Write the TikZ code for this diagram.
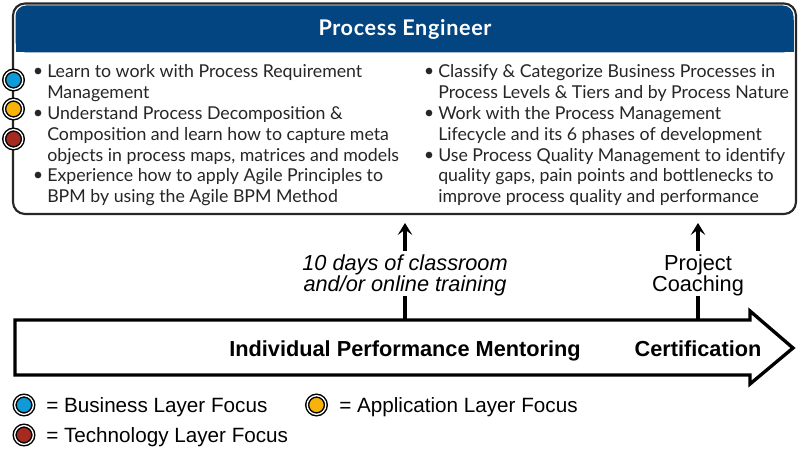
\documentclass[tikz,border=0pt]{standalone}
\usepackage{fontspec}
\setmainfont{Liberation Sans}
\newfontfamily\boxfont{Lato}
\newfontfamily\headfont[LetterSpace=3]{Lato}
\definecolor{headblue}{HTML}{024581}
\definecolor{bizblue}{HTML}{0F9BD7}
\definecolor{appyellow}{HTML}{F8B30B}
\definecolor{techred}{HTML}{A52A1F}
\definecolor{edgegray}{HTML}{262626}
\usetikzlibrary{arrows.meta}
\tikzset{
  bulletitem/.style = {anchor=north west, inner sep=0pt, align=left, font=\boxfont\fontsize{13.3}{15.6}\selectfont, text=edgegray},
  bulletdot/.style = {circle, fill=edgegray, inner sep=0pt, minimum size=5pt},
  layerdot/.style = {circle, draw=black, double=white, line width=1.1pt, double distance=1pt, minimum size=14pt, inner sep=0pt},
  legendtext/.style = {anchor=west, inner sep=0pt, font=\fontsize{15.5}{15.5}\selectfont},
  steptext/.style = {inner sep=0pt, align=center, font=\fontsize{16.3}{15.75}\selectfont},
  trackline/.style = {line width=2.5pt},
  uparrow/.style = {line width=2.5pt, -{Stealth[length=9pt,width=11pt,inset=4pt]}}
}
\begin{document}
\begin{tikzpicture}[x=0.75pt, y=-0.75pt]
    \useasboundingbox (0,0) rectangle (800,449);
    % main box
    \draw[edgegray, line width=1.6pt, rounded corners=9pt, fill=white] (13,3.5) rectangle (796,214);
    \fill[headblue, rounded corners=8pt] (15.5,5.5) -- (793.5,5.5) -- (793.5,52.5) -- (15.5,52.5) -- cycle;
    \fill[headblue] (15.5,20) rectangle (793.5,52.5);
    \node[inner sep=0pt, text=white, font=\headfont\bfseries\fontsize{16.2}{16}\selectfont] (title) at (405,29) {Process Engineer};
    % left column
    \node[bulletitem] (l1) at (47,64.5) {Learn to work with Process Requirement\\Management};
    \node[bulletitem] (l2) at (47,106.2) {Understand Process Decomposition \&\\Composition and learn how to capture meta\\objects in process maps, matrices and models};
    \node[bulletitem] (l3) at (47,168.5) {Experience how to apply Agile Principles to\\BPM by using the Agile BPM Method};
    \node[bulletdot] (dl1) at (38,71) {};
    \node[bulletdot] (dl2) at (38,113) {};
    \node[bulletdot] (dl3) at (38,175) {};
    % right column
    \node[bulletitem] (r1) at (438,64.5) {Classify \& Categorize Business Processes in\\Process Levels \& Tiers and by Process Nature};
    \node[bulletitem] (r2) at (438,106.2) {Work with the Process Management\\Lifecycle and its 6 phases of development};
    \node[bulletitem] (r3) at (438,147.8) {Use Process Quality Management to identify\\quality gaps, pain points and bottlenecks to\\improve process quality and performance};
    \node[bulletdot] (dr1) at (429,71) {};
    \node[bulletdot] (dr2) at (429,113) {};
    \node[bulletdot] (dr3) at (429,155) {};
    % layer dots on the box edge
    \node[layerdot, fill=bizblue] (biz) at (13.5,80) {};
    \node[layerdot, fill=appyellow] (app) at (13.5,109) {};
    \node[layerdot, fill=techred] (tech) at (13.5,139) {};
    % big arrow
    \draw[trackline, fill=white, miter limit=10] (15,320) -- (750,320) -- (750,311) -- (793,348) -- (750,384) -- (750,375) -- (15,375) -- cycle;
    \node[inner sep=0pt, font=\bfseries\fontsize{16.3}{16}\selectfont] (mentor) at (405,351) {Individual Performance Mentoring};
    \node[inner sep=0pt, font=\bfseries\fontsize{16.3}{16}\selectfont] (cert) at (698,349) {Certification};
    % steps above the arrow
    \node[steptext, font=\itshape\fontsize{16.3}{15.75}\selectfont] (training) at (405,275) {10 days of classroom\\and/or online training};
    \node[steptext] (coaching) at (698,275) {Project\\Coaching};
    \coordinate (trainbase) at (405,320);
    \coordinate (coachbase) at (698,320);
    \coordinate (trainlow) at (405,296);
    \coordinate (coachlow) at (698,296);
    \coordinate (trainhigh) at (405,251);
    \coordinate (coachhigh) at (698,251);
    \coordinate (traintip) at (405,223);
    \coordinate (coachtip) at (698,223);
    \draw[trackline] (trainbase) -- (trainlow);
    \draw[trackline] (coachbase) -- (coachlow);
    \draw[uparrow] (trainhigh) -- (traintip);
    \draw[uparrow] (coachhigh) -- (coachtip);
    % legend
    \node[layerdot, fill=bizblue] (kbiz) at (24,405) {};
    \node[legendtext] (tbiz) at (46,407.5) {= Business Layer Focus};
    \node[layerdot, fill=appyellow] (kapp) at (316.5,405) {};
    \node[legendtext] (tapp) at (339,407.5) {= Application Layer Focus};
    \node[layerdot, fill=techred] (ktech) at (24,435) {};
    \node[legendtext] (ttech) at (46,437.5) {= Technology Layer Focus};
\end{tikzpicture}
\end{document}
